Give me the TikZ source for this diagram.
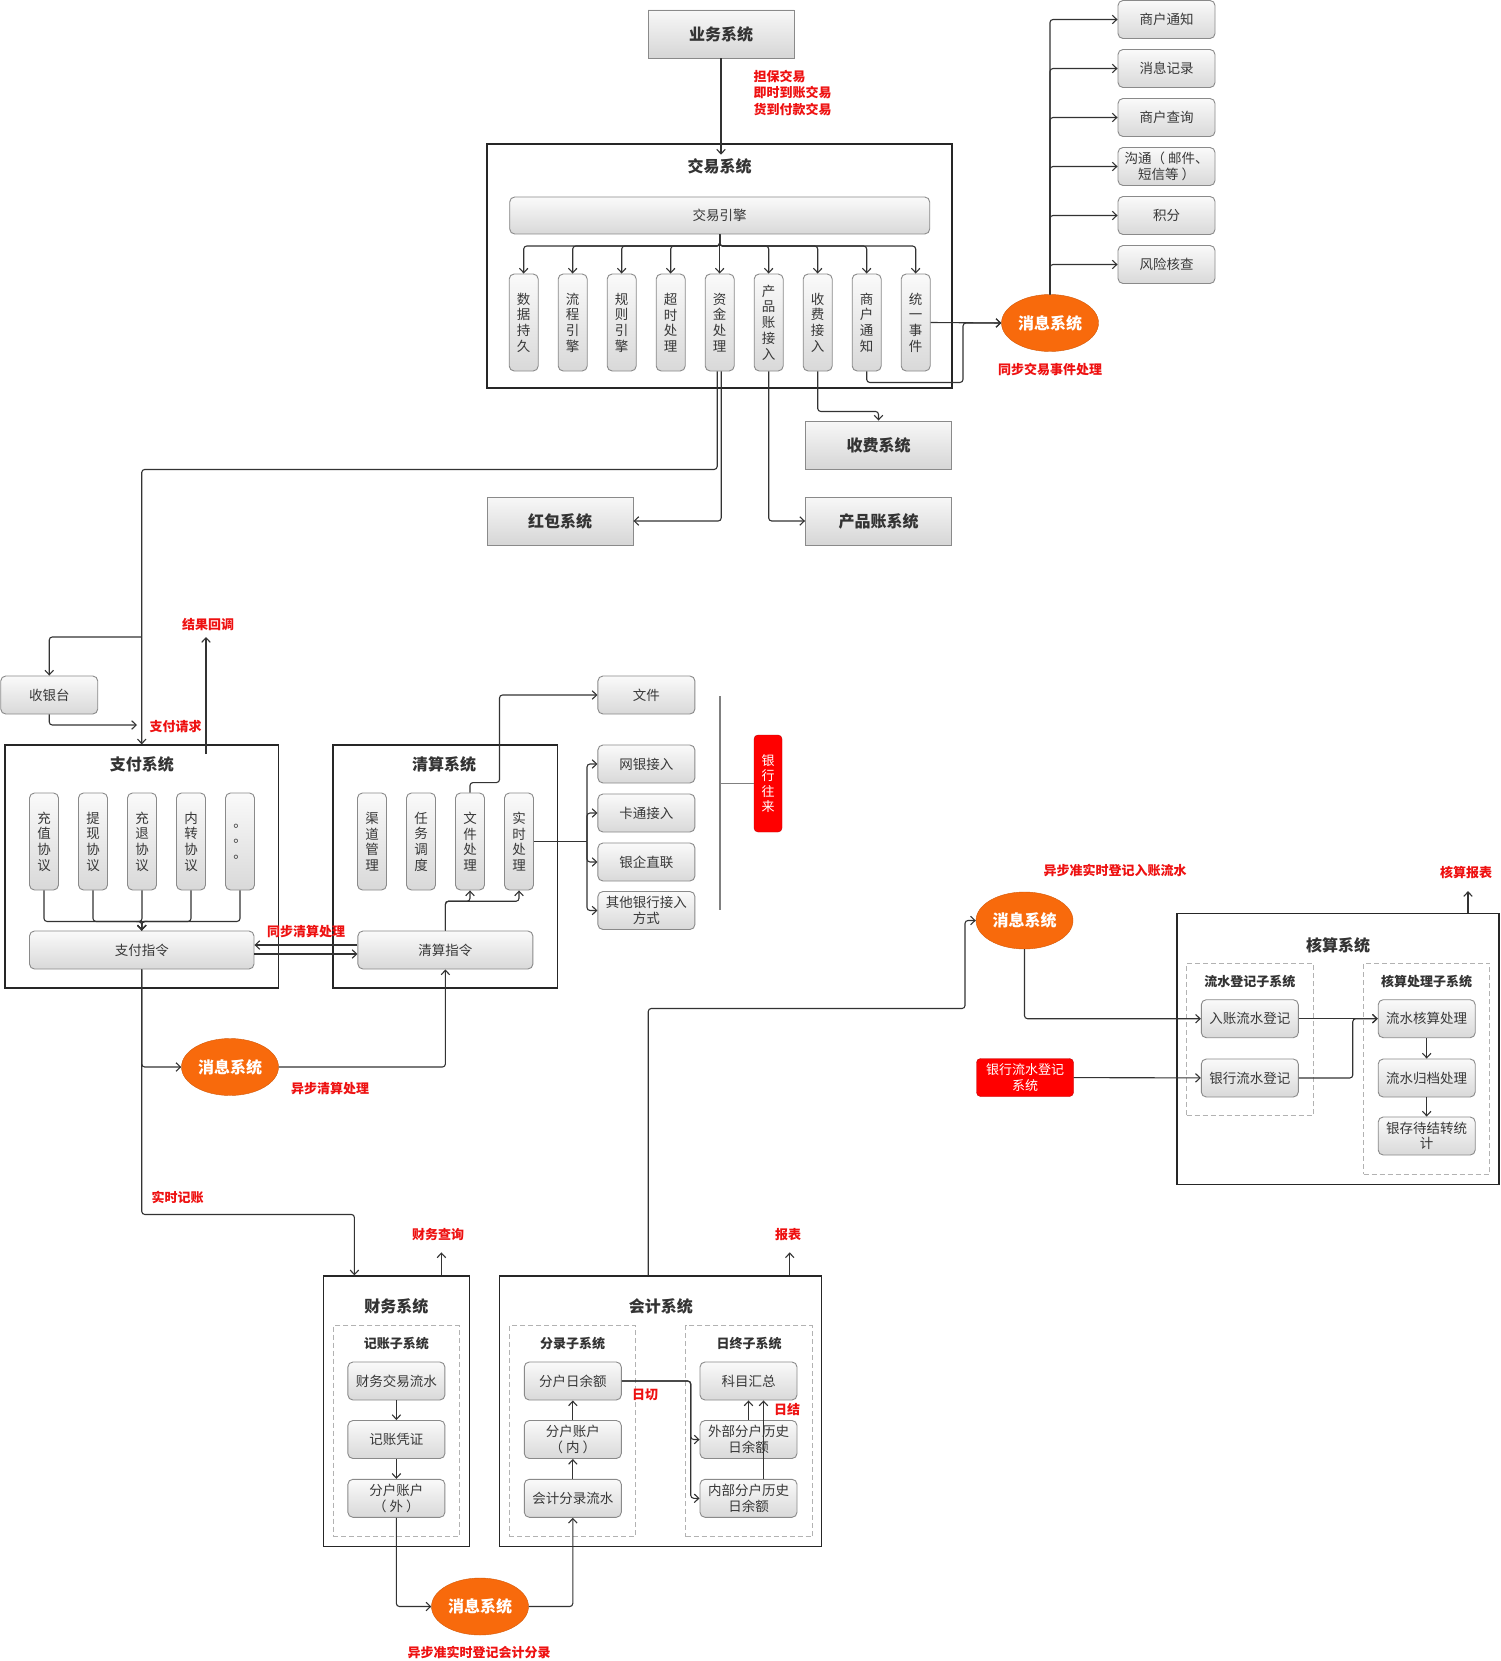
\documentclass[tikz,border=0pt]{standalone}
\usepackage{fontspec}
\setmainfont{Noto Sans CJK SC}
\XeTeXlinebreaklocale "zh"
\XeTeXlinebreakskip = 0pt plus 1pt
\usetikzlibrary{arrows.meta,shapes.geometric}

\definecolor{linec}{HTML}{333333}
\definecolor{boxline}{HTML}{8A8A8A}
\definecolor{msgorange}{HTML}{F86A0C}
\definecolor{notered}{HTML}{EE1111}
\definecolor{txtc}{HTML}{383838}

\tikzset{
  >={Straight Barb[length=4.5pt,width=8.5pt]},
  conn/.style={draw=linec,line width=1.1pt,rounded corners=3pt},
  sysbox/.style={draw=boxline,line width=0.9pt,top color=gray!6,bottom color=gray!32,minimum width=146pt,minimum height=48pt,font=\bfseries\fontsize{16}{18}\selectfont,text=black!80},
  sysframe/.style={draw=black!85,line width=1.2pt,fill=white,inner sep=0pt},
  ttl/.style={font=\bfseries\fontsize{16}{18}\selectfont,text=black!80},
  subttl/.style={font=\bfseries\fontsize{13}{15}\selectfont,text=black!80},
  subsys/.style={draw=gray!60,line width=0.9pt,dash pattern=on 5pt off 3pt,inner sep=0pt},
  itembox/.style={draw=boxline,line width=0.9pt,rounded corners=5pt,top color=gray!4,bottom color=gray!30,minimum width=97pt,minimum height=38pt,inner sep=1pt,align=center,font=\fontsize{13.5}{15.5}\selectfont,text=txtc},
  vitem/.style={itembox,minimum width=29pt,minimum height=97pt,text width=13.5pt,font=\fontsize{13.5}{15.7}\selectfont},
  msg/.style={ellipse,draw=msgorange!85!black,fill=msgorange,minimum width=97pt,minimum height=57pt,inner sep=0pt,font=\bfseries\fontsize{16}{18}\selectfont,text=white},
  redbox/.style={draw=red!75!black,fill=red,rounded corners=4pt,align=center,inner sep=1pt,font=\fontsize{13}{15.5}\selectfont,text=white},
  rednote/.style={font=\bfseries\fontsize{13}{16.7}\selectfont,text=notered,align=left},
}

\begin{document}
\begin{tikzpicture}[x=1pt,y=-1pt]
\fill[white] (0,0) rectangle (1500,1661);
\useasboundingbox (0,0) rectangle (1500,1661);

% trade system
\node[sysbox] (biz) at (721,34) {业务系统};
\node[sysframe,minimum width=465pt,minimum height=244pt] (trade) at (719.5,266) {};
\node[ttl] (tradettl) at (719.7,166) {交易系统};
\node[itembox,minimum width=420pt,minimum height=37pt] (engine) at (719.7,215.5) {交易引擎};
\foreach \i/\t in {1/数据持久,2/流程引擎,3/规则引擎,4/超时处理,5/资金处理,6/产品账接入,7/收费接入,8/商户通知,9/统一事件}{
  \node[vitem] (t\i) at ({523.7+(\i-1)*49},322.5) {\t};
  \draw[conn,->] (engine.south) -- ++(0,11.6) -| (t\i.north);
}
\draw[conn,->] (biz.south) -- (biz |- tradettl.north);
\node[rednote,anchor=west] (bizlbl) at (750,93) {担保交易\\即时到账交易\\货到付款交易};

% message system (sync)
\node[msg] (msgA) at (1050,323) {消息系统};
\node[rednote] (msgAlbl) at (1050,370) {同步交易事件处理};
\coordinate (jnA) at (963,323);
\draw[conn,->] (t9.east) -- (msgA.west);
\draw[conn,->] (t8.south) -- ++(0,11) -| (jnA) -- (msgA.west);
\foreach \i/\t/\y in {1/商户通知/19.5,2/消息记录/68.5,3/商户查询/117.5,4/{沟通（ 邮件、\\短信等 ）}/166.5,5/积分/215.5,6/风险核查/264.5}{
  \node[itembox] (r\i) at (1166.5,\y) {\t};
  \draw[conn,->] (msgA.north) |- (r\i.west);
}

\node[sysbox] (fee) at (878.5,445) {收费系统};
\node[sysbox] (prod) at (878.5,521) {产品账系统};
\node[sysbox] (bonus) at (560,521) {红包系统};
\draw[conn,->] (t7.south) -- ++(0,40) -| (fee.north);
\draw[conn,->] (t6.south) |- (prod.west);
\draw[conn,->] ([xshift=1.5pt]t5.south) |- (bonus.east);

% pay system
\node[sysframe,minimum width=273.5pt,minimum height=243pt] (pay) at (141.75,866.5) {};
\node[ttl] at (141.75,764) {支付系统};
\draw[conn,->] ([xshift=-2.5pt]t5.south) -- ++(0,98) -| (pay.north);
\node[itembox] (cashier) at (49.25,695) {收银台};
\coordinate (cashbr) at (141.75,637);
\coordinate (reqend) at (137,725);
\draw[conn,->] (cashbr) -| (cashier.north);
\draw[conn,->] (cashier.south) |- (reqend);
\node[rednote,anchor=west] at (146,727) {支付请求};
\coordinate (cbfrom) at (206,754);
\coordinate (cbto) at (206,637);
\draw[conn,->] (cbfrom) -- (cbto);
\node[rednote] at (208,625) {结果回调};

\foreach \i/\t in {1/充值协议,2/提现协议,3/充退协议,4/内转协议}
  \node[vitem] (p\i) at ({44+(\i-1)*49},841.5) {\t};
\node[itembox,minimum width=29pt,minimum height=97pt] (p5) at (240,841.5) {。\\。\\。};
\node[itembox,minimum width=224.5pt] (payorder) at (141.75,950) {支付指令};
\foreach \i in {1,...,5}
  \draw[conn,->] (p\i.south) -- ++(0,31) -| (payorder.north);

% clearing system
\node[sysframe,minimum width=224.5pt,minimum height=243pt] (clear) at (445.25,866.5) {};
\node[ttl] at (444,764) {清算系统};
\foreach \i/\t in {1/渠道管理,2/任务调度,3/文件处理,4/实时处理}
  \node[vitem] (c\i) at ({372+(\i-1)*49},841.5) {\t};
\node[itembox,minimum width=175pt] (clearorder) at (445.4,950) {清算指令};
\draw[conn,->] (clearorder.north) -- ++(0,-29.3) -| (c3.south);
\draw[conn,->] (clearorder.north) -- ++(0,-29.3) -| (c4.south);
\draw[conn,->] ([yshift=5pt]clearorder.west) -- ([yshift=5pt]payorder.east);
\draw[conn,->] ([yshift=-4pt]payorder.east) -- ([yshift=-4pt]clearorder.west);
\node[rednote] at (306,932) {同步清算处理};

% bank side
\node[itembox] (file) at (646.4,695) {文件};
\foreach \i/\t/\y in {1/网银接入/764,2/卡通接入/813,3/银企直联/862,4/{其他银行接入\\方式}/910.5}
  \node[itembox] (b\i) at (646.4,\y) {\t};
\draw[conn,->] (c3.north) -- ++(0,-10) -- ++(29.5,0) |- (file.west);
\coordinate (bk) at (587,841.5);
\draw[conn] (c4.east) -- (bk);
\foreach \i in {1,...,4}
  \draw[conn,->] (bk) |- (b\i.west);
\node[redbox,minimum width=28pt,minimum height=97pt,text width=13pt] (bankrel) at (768,783.5) {银行往来};
\coordinate (brtop) at (720,696);
\coordinate (brbot) at (720,910);
\coordinate (brmid) at (720,783.5);
\draw[conn,draw=gray] (brtop) -- (brbot);
\draw[conn,draw=gray] (brmid) -- (bankrel.west);

% async clearing
\node[msg] (msgB) at (230,1067) {消息系统};
\draw[conn,->] (payorder.south) |- (msgB.west);
\draw[conn,->] (msgB.east) -| (clearorder.south);
\node[rednote] at (330,1089) {异步清算处理};

% finance system
\node[sysframe,minimum width=146pt,minimum height=270.7pt] (fin) at (396.4,1411.3) {};
\node[ttl] at (396.4,1306.7) {财务系统};
\node[subsys,minimum width=126pt,minimum height=211pt] (finsub) at (396.4,1431.2) {};
\node[subttl] at (396.4,1343.3) {记账子系统};
\node[itembox] (f1) at (396.4,1381) {财务交易流水};
\node[itembox] (f2) at (396.4,1439.5) {记账凭证};
\node[itembox] (f3) at (396.4,1498.3) {分户账户\\（ 外 ）};
\draw[conn,->] (f1) -- (f2);
\draw[conn,->] (f2) -- (f3);
\draw[conn,->] (payorder.south) -- ++(0,245) -| ([xshift=-42pt]fin.north);
\node[rednote,anchor=west] at (148,1197) {实时记账};
\draw[conn,->] ([xshift=45pt]fin.north) -- ++(0,-23);
\node[rednote] at (438,1235) {财务查询};

% accounting system
\node[sysframe,minimum width=322pt,minimum height=270.7pt] (acc) at (660.75,1411.3) {};
\node[ttl] at (660.75,1306.7) {会计系统};
\node[subsys,minimum width=126.4pt,minimum height=211pt] (entsub) at (572.6,1431.2) {};
\node[subsys,minimum width=126.8pt,minimum height=211pt] (eodsub) at (749.1,1431.2) {};
\node[subttl] at (572.6,1343.3) {分录子系统};
\node[subttl] at (749.1,1343.3) {日终子系统};
\node[itembox] (a1) at (572.8,1381) {分户日余额};
\node[itembox] (a2) at (572.8,1439.5) {分户账户\\（ 内 ）};
\node[itembox] (a3) at (572.8,1498.3) {会计分录流水};
\node[itembox] (d1) at (748.5,1381) {科目汇总};
\node[itembox] (d2) at (748.5,1439.5) {外部分户历史\\日余额};
\node[itembox] (d3) at (748.5,1498.3) {内部分户历史\\日余额};
\draw[conn,->] (a3) -- (a2);
\draw[conn,->] (a2) -- (a1);
\draw[conn,->] (a1.east) -- ++(69,0) |- (d2.west);
\draw[conn,->] (a1.east) -- ++(69,0) |- (d3.west);
\node[rednote] at (645,1395) {日切};
\draw[conn,->] (d2) -- (d1);
\draw[conn,->] ([xshift=15pt]d3.north) -- ([xshift=15pt]d1.south);
\node[rednote] at (787,1410) {日结};
\draw[conn,->] ([xshift=129pt]acc.north) -- ++(0,-23);
\node[rednote] at (788,1235) {报表};

% async accounting entry
\node[msg] (msgD) at (480,1606.5) {消息系统};
\draw[conn,->] (f3.south) |- (msgD.west);
\draw[conn,->] (msgD.east) -| (a3.south);
\node[rednote] at (479,1652) {异步准实时登记会计分录};

% check system
\node[msg] (msgC) at (1024.5,920.5) {消息系统};
\coordinate (accup) at (965,1008.5);
\draw[conn,->] ([xshift=-12.5pt]acc.north) |- (accup) |- (msgC.west);
\node[rednote] at (1115,870) {异步准实时登记入账流水};
\node[sysframe,minimum width=322pt,minimum height=271pt] (check) at (1338,1048.8) {};
\node[ttl] at (1338,945) {核算系统};
\node[subsys,minimum width=126.4pt,minimum height=152.4pt] (regsub) at (1249.8,1039.5) {};
\node[subsys,minimum width=126.1pt,minimum height=210.7pt] (procsub) at (1426.7,1068.7) {};
\node[subttl] at (1249.8,981.7) {流水登记子系统};
\node[subttl] at (1426.7,981.7) {核算处理子系统};
\node[itembox] (k1) at (1249.8,1018.7) {入账流水登记};
\node[itembox] (k2) at (1249.8,1078) {银行流水登记};
\node[itembox] (h1) at (1426.7,1018.7) {流水核算处理};
\node[itembox] (h2) at (1426.7,1078) {流水归档处理};
\node[itembox] (h3) at (1426.7,1136) {银存待结转统\\计};
\draw[conn,->] (msgC.south) |- (k1.west);
\draw[conn,->] (k1) -- (h1);
\draw[conn,->] (k2.east) -- ++(54,0) |- (h1.west);
\draw[conn,->] (h1) -- (h2);
\draw[conn,->] (h2) -- (h3);
\node[redbox,minimum width=97pt,minimum height=38pt] (bankflow) at (1025,1077.5) {银行流水登记\\系统};
\draw[conn,->] (bankflow) -- (k2);
\draw[conn,->] ([xshift=130pt]check.north) -- ++(0,-21.6);
\node[rednote] at (1466,873) {核算报表};
\end{tikzpicture}
\end{document}
